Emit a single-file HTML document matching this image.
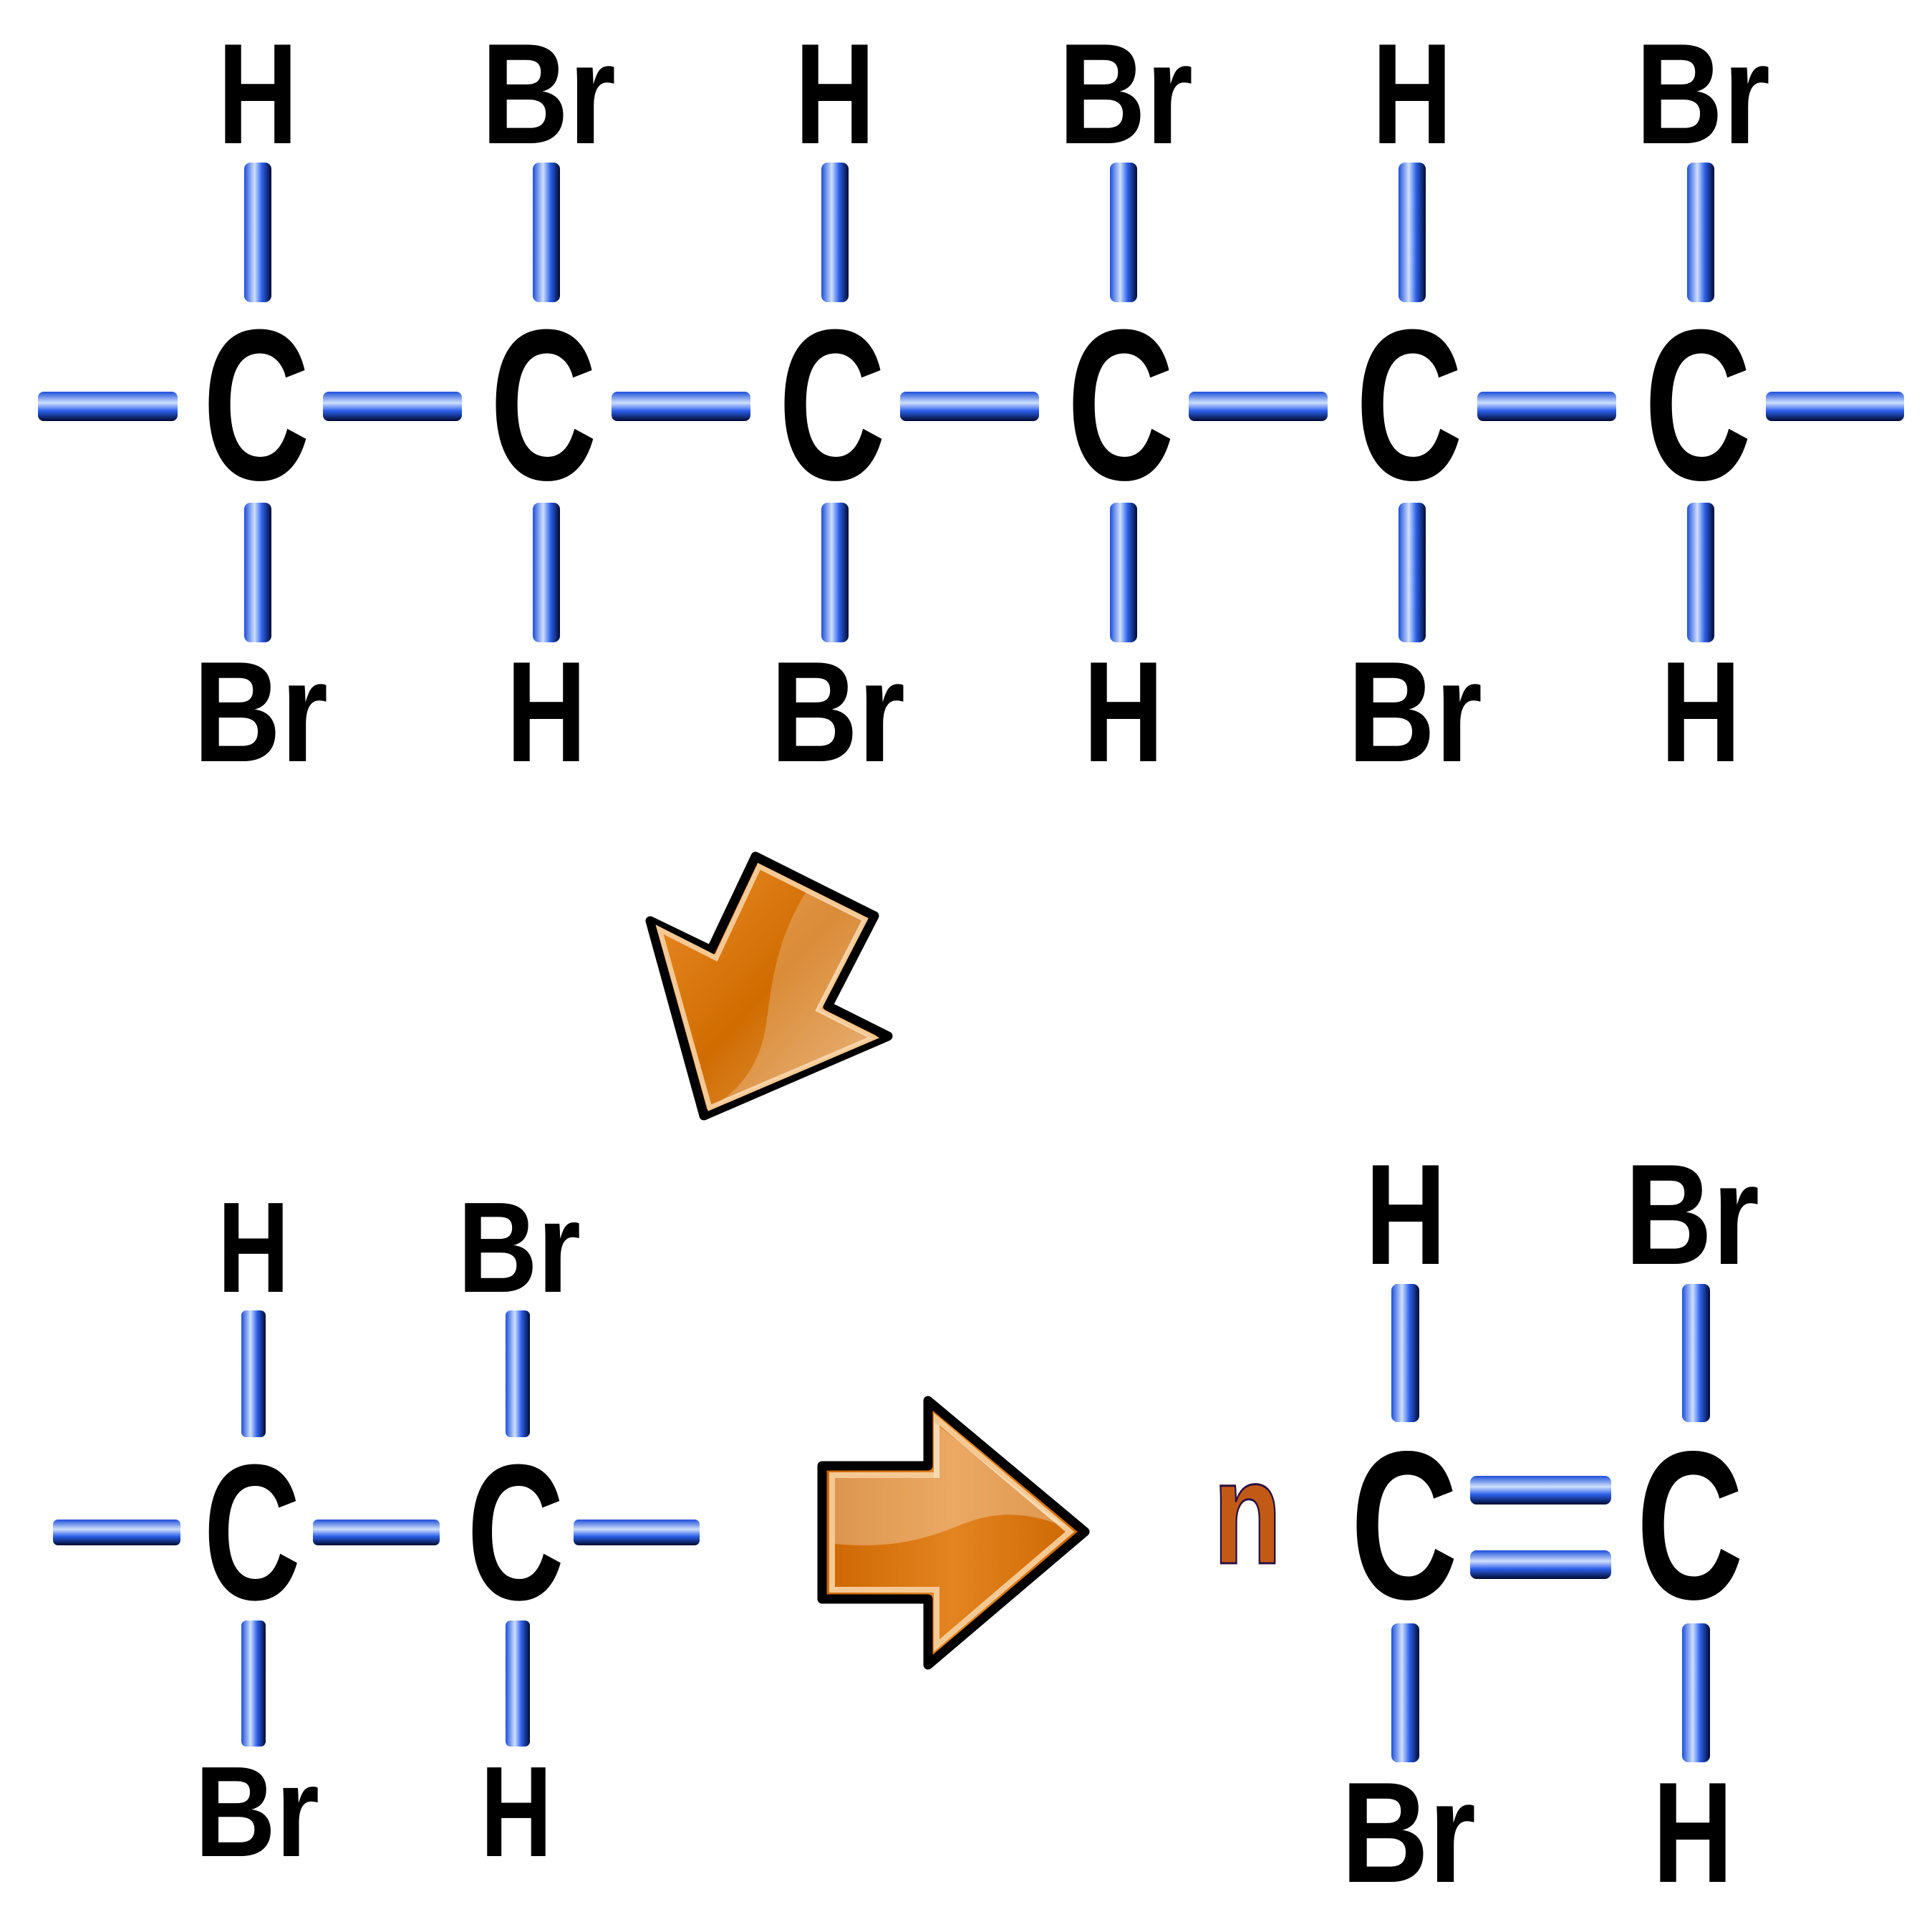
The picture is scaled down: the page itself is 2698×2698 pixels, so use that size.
<!DOCTYPE html>
<html><head><meta charset="utf-8"><style>html,body{margin:0;padding:0;background:#fff}svg{display:block}</style></head>
<body>
<svg width="2698" height="2698" viewBox="0 0 2698 2698" xmlns="http://www.w3.org/2000/svg">
<defs>
<linearGradient id="gv" x1="0" y1="0" x2="1" y2="0">
<stop offset="0" stop-color="#1d4fd8"/><stop offset="0.38" stop-color="#cfe0ff"/><stop offset="0.65" stop-color="#2c60ea"/><stop offset="1" stop-color="#000a30"/>
</linearGradient>
<linearGradient id="gh" x1="0" y1="0" x2="0" y2="1">
<stop offset="0" stop-color="#1d4fd8"/><stop offset="0.38" stop-color="#cfe0ff"/><stop offset="0.65" stop-color="#2c60ea"/><stop offset="1" stop-color="#000a30"/>
</linearGradient>
<linearGradient id="ga" x1="0" y1="0" x2="1" y2="1">
<stop offset="0" stop-color="#ee9030"/><stop offset="0.5" stop-color="#d06c00"/><stop offset="1" stop-color="#e8a868"/>
</linearGradient>
<linearGradient id="ga2" x1="0" y1="0" x2="1" y2="0">
<stop offset="0" stop-color="#cc6600"/><stop offset="0.5" stop-color="#e38420"/><stop offset="1" stop-color="#cc6600"/>
</linearGradient>
</defs>
<g font-family="Liberation Sans, sans-serif" font-weight="bold" fill="#000" text-anchor="middle">
<!-- top chain -->
<g fill="url(#gh)">
<rect x="53" y="547" width="195" height="41" rx="8"/>
<rect x="451" y="547" width="194" height="41" rx="8"/>
<rect x="854" y="547" width="194" height="41" rx="8"/>
<rect x="1257" y="547" width="194" height="41" rx="8"/>
<rect x="1660" y="547" width="194" height="41" rx="8"/>
<rect x="2063" y="547" width="194" height="41" rx="8"/>
<rect x="2466" y="547" width="193" height="41" rx="8"/>
</g>
<g fill="url(#gv)">
<rect x="341" y="227" width="38" height="195" rx="9"/><rect x="341" y="702" width="38" height="195" rx="9"/>
<rect x="744" y="227" width="38" height="195" rx="9"/><rect x="744" y="702" width="38" height="195" rx="9"/>
<rect x="1147" y="227" width="38" height="195" rx="9"/><rect x="1147" y="702" width="38" height="195" rx="9"/>
<rect x="1550" y="227" width="38" height="195" rx="9"/><rect x="1550" y="702" width="38" height="195" rx="9"/>
<rect x="1953" y="227" width="38" height="195" rx="9"/><rect x="1953" y="702" width="38" height="195" rx="9"/>
<rect x="2356" y="227" width="38" height="195" rx="9"/><rect x="2356" y="702" width="38" height="195" rx="9"/>
</g>
<g font-size="300">
<text x="358" y="669" textLength="150" lengthAdjust="spacingAndGlyphs">C</text>
<text x="759" y="669" textLength="150" lengthAdjust="spacingAndGlyphs">C</text>
<text x="1162" y="669" textLength="150" lengthAdjust="spacingAndGlyphs">C</text>
<text x="1565" y="669" textLength="150" lengthAdjust="spacingAndGlyphs">C</text>
<text x="1968" y="669" textLength="150" lengthAdjust="spacingAndGlyphs">C</text>
<text x="2371" y="669" textLength="150" lengthAdjust="spacingAndGlyphs">C</text>
</g>
<g font-size="200">
<text x="360" y="200" textLength="112" lengthAdjust="spacingAndGlyphs">H</text>
<text x="766" y="200" textLength="188" lengthAdjust="spacingAndGlyphs">Br</text>
<text x="1166" y="200" textLength="112" lengthAdjust="spacingAndGlyphs">H</text>
<text x="1572" y="200" textLength="188" lengthAdjust="spacingAndGlyphs">Br</text>
<text x="1972" y="200" textLength="112" lengthAdjust="spacingAndGlyphs">H</text>
<text x="2378" y="200" textLength="188" lengthAdjust="spacingAndGlyphs">Br</text>
<text x="364" y="1063" textLength="188" lengthAdjust="spacingAndGlyphs">Br</text>
<text x="763" y="1063" textLength="112" lengthAdjust="spacingAndGlyphs">H</text>
<text x="1170" y="1063" textLength="188" lengthAdjust="spacingAndGlyphs">Br</text>
<text x="1569" y="1063" textLength="112" lengthAdjust="spacingAndGlyphs">H</text>
<text x="1976" y="1063" textLength="188" lengthAdjust="spacingAndGlyphs">Br</text>
<text x="2375" y="1063" textLength="112" lengthAdjust="spacingAndGlyphs">H</text>
</g>

<!-- bottom-left molecule -->
<g fill="url(#gh)">
<rect x="74" y="2122" width="178" height="36" rx="7"/>
<rect x="437" y="2122" width="177" height="36" rx="7"/>
<rect x="801" y="2122" width="176" height="36" rx="7"/>
</g>
<g fill="url(#gv)">
<rect x="337" y="1830" width="34" height="177" rx="7"/><rect x="337" y="2263" width="34" height="176" rx="7"/>
<rect x="706" y="1830" width="34" height="177" rx="7"/><rect x="706" y="2263" width="34" height="176" rx="7"/>
</g>
<g font-size="270">
<text x="352" y="2233" textLength="136" lengthAdjust="spacingAndGlyphs">C</text>
<text x="720" y="2233" textLength="136" lengthAdjust="spacingAndGlyphs">C</text>
</g>
<g font-size="180">
<text x="354" y="1804" textLength="100" lengthAdjust="spacingAndGlyphs">H</text>
<text x="725" y="1804" textLength="172" lengthAdjust="spacingAndGlyphs">Br</text>
<text x="359" y="2592" textLength="174" lengthAdjust="spacingAndGlyphs">Br</text>
<text x="721" y="2592" textLength="100" lengthAdjust="spacingAndGlyphs">H</text>
</g>

<!-- right molecule -->
<g fill="url(#gh)">
<rect x="2053" y="2061" width="197" height="40" rx="9"/>
<rect x="2053" y="2165" width="197" height="40" rx="9"/>
</g>
<g fill="url(#gv)">
<rect x="1943" y="1793" width="39" height="193" rx="9"/><rect x="1943" y="2267" width="39" height="194" rx="9"/>
<rect x="2349" y="1793" width="39" height="193" rx="9"/><rect x="2349" y="2267" width="39" height="194" rx="9"/>
</g>
<g font-size="295">
<text x="1961" y="2232" textLength="150" lengthAdjust="spacingAndGlyphs">C</text>
<text x="2360" y="2232" textLength="150" lengthAdjust="spacingAndGlyphs">C</text>
</g>
<g font-size="200">
<text x="1963" y="1765" textLength="113" lengthAdjust="spacingAndGlyphs">H</text>
<text x="2363" y="1765" textLength="188" lengthAdjust="spacingAndGlyphs">Br</text>
<text x="1967" y="2628" textLength="188" lengthAdjust="spacingAndGlyphs">Br</text>
<text x="2364" y="2628" textLength="112" lengthAdjust="spacingAndGlyphs">H</text>
</g>
<text x="1742" y="2183" font-size="205" fill="#c25a16" stroke="#2a1040" stroke-width="3" textLength="96" lengthAdjust="spacingAndGlyphs">n</text>
</g>

<!-- arrow down-left -->
<polygon points="1055,1196 1221,1279 1156,1405 1240,1447 983,1558 908,1286 993,1327" fill="url(#ga)" stroke="#000" stroke-width="13" stroke-linejoin="round"/>
<polygon points="1060,1210 1208,1284 1143,1410 1220,1449 991,1547 921,1298 1000,1338" fill="none" stroke="#f5c994" stroke-width="7"/>
<path d="M1126,1245 C1085,1310 1078,1370 1070,1430 C1060,1500 1020,1530 995,1545 L1218,1450 L1143,1410 L1207,1285 Z" fill="#fff" opacity="0.22"/>

<!-- arrow right -->
<polygon points="1148,2047 1296,2047 1296,1956 1515,2139 1296,2325 1296,2233 1148,2233" fill="url(#ga2)" stroke="#000" stroke-width="13" stroke-linejoin="round"/>
<polygon points="1162,2060 1308,2060 1308,1982 1494,2139 1308,2298 1308,2220 1162,2220" fill="none" stroke="#f5c994" stroke-width="8"/>
<path d="M1166,2064 L1304,2064 L1304,1986 L1488,2132 C1430,2110 1390,2110 1340,2130 C1280,2155 1230,2162 1166,2156 Z" fill="#fff" opacity="0.3"/>
</svg>
</body></html>
